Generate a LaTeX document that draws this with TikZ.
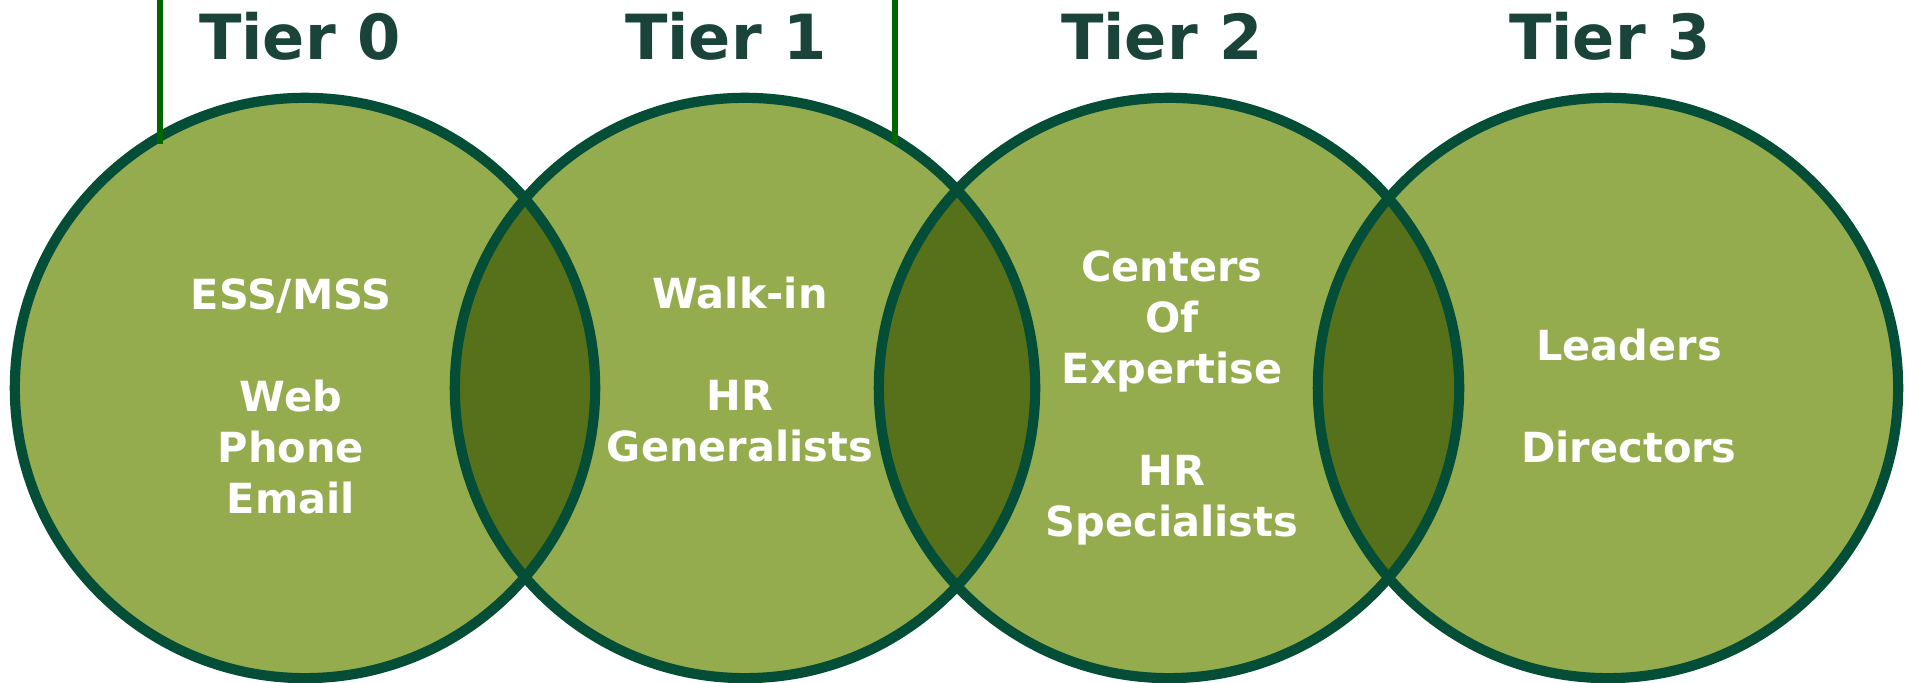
\documentclass[tikz,border=0pt]{standalone}
\usepackage{fontspec}
\setmainfont{DejaVu Sans}
\usetikzlibrary{positioning}
\definecolor{tierfill}{RGB}{149,172,78}
\definecolor{lensfill}{RGB}{86,113,26}
\definecolor{rimgreen}{RGB}{4,78,56}
\definecolor{markgreen}{RGB}{0,102,0}
\definecolor{headgreen}{RGB}{26,68,57}
\tikzstyle{rim} = [draw=rimgreen, line width=2.9pt]
\tikzstyle{marker} = [draw=markgreen, line width=1.7pt]
\tikzstyle{tierhead} = [text=headgreen, inner sep=0pt,
    font=\bfseries\fontsize{17.7}{20}\selectfont]
\tikzstyle{tiertext} = [text=white, align=center, inner sep=0pt,
    font=\bfseries\fontsize{11.8}{14.5}\selectfont]

\begin{document}
\begin{tikzpicture}[x=0.01cm, y=-0.01cm]
  \useasboundingbox (0,0) rectangle (1911,683);
  \coordinate (c0) at (305,388);
  \coordinate (c1) at (745,388);
  \coordinate (c2) at (1169,388);
  \coordinate (c3) at (1608,388);
  \foreach \c in {c0,c1,c2,c3}
    \fill [tierfill] (\c) circle (2.9cm);
  \foreach \a/\b in {c0/c1,c1/c2,c2/c3} {
    \begin{scope}
      \clip (\a) circle (2.9cm);
      \fill [lensfill] (\b) circle (2.9cm);
    \end{scope}
  }
  \foreach \c in {c0,c1,c2,c3}
    \draw [rim] (\c) circle (2.9cm);
  \coordinate (m0a) at (160,0);
  \coordinate (m0b) at (160,144);
  \coordinate (m1a) at (895,0);
  \coordinate (m1b) at (895,144);
  \draw [marker] (m0a) -- (m0b);
  \draw [marker] (m1a) -- (m1b);
  \node [tierhead] (h0) at (300,36) {Tier 0};
  \node [tierhead] (h1) at (726,36) {Tier 1};
  \node [tierhead] (h2) at (1162,36) {Tier 2};
  \node [tierhead] (h3) at (1610,36) {Tier 3};
  \node [tiertext] (t0) at (291,396) {ESS/MSS\\[14.5pt]Web\\Phone\\Email};
  \node [tiertext] (t1) at (740,370) {Walk-in\\[14.5pt]HR\\Generalists};
  \node [tiertext] (t2) at (1172,398) {Centers\\Of\\Expertise\\[14.5pt]HR\\Specialists};
  \node [tiertext] (t3) at (1629,396) {Leaders\\[14.5pt]Directors};
\end{tikzpicture}
\end{document}
